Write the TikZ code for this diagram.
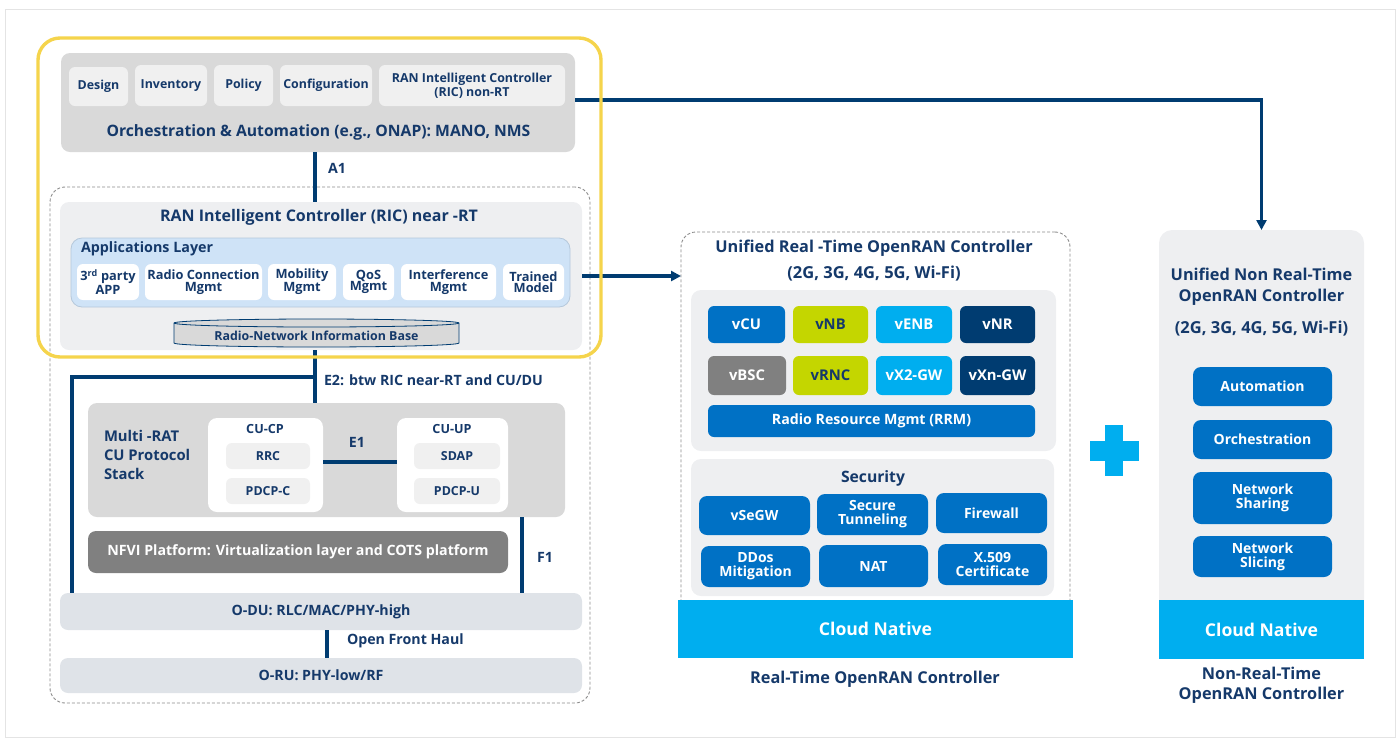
\documentclass[tikz,border=0pt]{standalone}
\usepackage{fontspec}
\setmainfont{Open Sans}
\usetikzlibrary{arrows.meta,calc}
\definecolor{txt}{HTML}{15396A}
\definecolor{navy}{HTML}{003C71}
\definecolor{lgray}{HTML}{EEEFF1}
\definecolor{mgray}{HTML}{D9D9D9}
\definecolor{boxg}{HTML}{F0F0F0}
\definecolor{appblue}{HTML}{CFE3F7}
\definecolor{appedge}{HTML}{B5C8DB}
\definecolor{dugray}{HTML}{DFE3E8}
\definecolor{dgray}{HTML}{808080}
\definecolor{iblue}{HTML}{0071C5}
\definecolor{igreen}{HTML}{C4D600}
\definecolor{icyan}{HTML}{00AEEF}
\definecolor{inavy}{HTML}{003C71}
\definecolor{yel}{HTML}{F5D44C}
\definecolor{frame}{HTML}{E4E4E4}
\definecolor{dashc}{HTML}{8C8C8C}
\newcommand\mybox[7]{\node[#6, minimum width={#4-#2}, minimum height={#5-#3}] (#1) at ({(#2+#4)/2},{(#3+#5)/2}) {#7};}
\newcommand\fz[2]{\bfseries\fontsize{#1}{#2}\selectfont}
\tikzset{
  base/.style={inner sep=0pt, outer sep=0pt, text=txt, align=center},
  f12/.style={font=\fz{12.4}{11.5}},
  f14/.style={font=\fz{14.2}{15}},
  f16/.style={font=\fz{16.3}{17}},
  f17/.style={font=\fz{17.6}{18}},
  rbox/.style={base, rounded corners=8pt},
  sbox/.style={base, f12, fill=boxg, rounded corners=6pt},
  abox/.style={base, font=\fz{12.8}{11.5}, fill=white, rounded corners=6pt},
  cbox/.style={base, font=\fz{14.8}{15}, text=white, rounded corners=6pt},
  sec/.style={base, text=white, fill=iblue, rounded corners=8pt, font=\fz{14}{14}},
  lbl/.style={base, f14},
  conn/.style={draw=navy, line width=3.2pt},
  dbox/.style={base, draw=dashc, line width=0.9pt, dash pattern=on 3pt off 2pt, rounded corners=15pt},
}
\begin{document}
\begin{tikzpicture}[x=1pt,y=-1pt]
\useasboundingbox (0,0) rectangle (1398,740);
\draw[frame, line width=1pt] (5,9) rectangle (1395.5,737.5);

% ---------- left part ----------
\mybox{ricd}{50}{187}{590}{703}{dbox}{}
\mybox{orch}{61}{53}{575}{152}{rbox, fill=mgray, rounded corners=9pt}{}
\node[base, font=\fz{15.7}{16}] (orchT) at (318.5,132) {Orchestration \& Automation (e.g., ONAP): MANO, NMS};
\mybox{design}{69}{67}{128}{106}{sbox}{Design}
\mybox{inv}{135}{65}{207}{106}{sbox}{Inventory}
\mybox{pol}{214}{65}{273}{106}{sbox}{Policy}
\mybox{conf}{280}{65}{372}{106}{sbox}{Configuration}
\mybox{ricnon}{379}{65}{565}{106}{sbox}{RAN Intelligent Controller\\[1pt](RIC) non-RT}

\mybox{ricnrt}{60}{202}{582}{350}{rbox, fill=lgray, rounded corners=9pt}{}
\node[base, font=\fz{16}{16}] (ricT) at (319,217) {RAN Intelligent Controller (RIC) near -RT};
\mybox{apps}{71}{238}{570}{307}{rbox, fill=appblue, draw=appedge, line width=0.8pt, rounded corners=11pt}{}
\node[base, font=\fz{14.3}{14}, anchor=west] (appsT) at (81,249) {Applications Layer};
\mybox{app1}{77}{264}{139}{300}{abox}{3\textsuperscript{rd} party\\APP}
\mybox{app2}{145}{264}{262}{300}{abox}{Radio Connection\\Mgmt}
\mybox{app3}{268}{264}{336}{300}{abox}{Mobility\\Mgmt}
\mybox{app4}{343}{264}{394}{300}{abox}{QoS\\Mgmt}
\mybox{app5}{401}{264}{496}{300}{abox}{Interference\\Mgmt}
\mybox{app6}{503}{264}{564}{300}{abox}{Trained\\Model}
\filldraw[fill=mgray, draw=navy, line width=0.8pt] (174,323) -- (174,343)
  arc[start angle=180, end angle=360, x radius=142.5pt, y radius=4pt] -- (459,323)
  arc[start angle=0, end angle=180, x radius=142.5pt, y radius=4pt] -- cycle;
\draw[navy, line width=0.8pt] (174,323) arc[start angle=180, end angle=360, x radius=142.5pt, y radius=4pt];
\node[base, f12, minimum width=285, minimum height=20] (rnib) at (316.5,336) {Radio-Network Information Base};

\node[lbl, anchor=west] (a1) at (328,168) {A1};
\draw[conn] (orch.south -| 315,0) -- (ricnrt.north -| 315,0);

\mybox{cu}{88}{403}{565}{517}{rbox, fill=mgray, rounded corners=9pt}{}
\node[base, anchor=north west, align=left, font=\fz{14.8}{19}] (cuT) at (104,430) {Multi -RAT\\CU Protocol\\Stack};
\mybox{cucp}{208}{418}{323}{512}{rbox, fill=white, rounded corners=9pt}{}
\node[base, font=\fz{12.6}{12}] (cucpT) at (265,429) {CU-CP};
\mybox{rrc}{226}{443}{310}{469}{sbox}{RRC}
\mybox{pdcpc}{226}{478}{310}{504}{sbox}{PDCP-C}
\mybox{cuup}{397}{418}{508}{512}{rbox, fill=white, rounded corners=9pt}{}
\node[base, font=\fz{12.6}{12}] (cuupT) at (452,429) {CU-UP};
\mybox{sdap}{414}{443}{500}{469}{sbox}{SDAP}
\mybox{pdcpu}{414}{478}{500}{504}{sbox}{PDCP-U}
\coordinate (e1y) at (0,462);
\draw[conn] (cucp.east |- e1y) -- (cuup.west |- e1y);
\node[lbl] (e1) at (357,442) {E1};

\mybox{nfvi}{88}{531}{508}{573}{rbox, f14, fill=dgray, text=white}{NFVI Platform: Virtualization layer and COTS platform}
\mybox{odu}{60}{593}{582}{630}{rbox, f14, fill=dugray}{O-DU: RLC/MAC/PHY-high}
\mybox{oru}{60}{658}{582}{693}{rbox, f14, fill=dugray}{O-RU: PHY-low/RF}

% E2
\coordinate (e2x) at (315,0);
\coordinate (e2j) at (315,377);
\coordinate (e2l) at (72,377);
\draw[conn] (ricnrt.south -| e2x) -- (cu.north -| e2x);
\draw[conn] (e2j) -- (e2l) -- (odu.north -| e2l);
\node[lbl, anchor=west] (e2) at (324,380) {E2: btw RIC near-RT and CU/DU};
% F1
\coordinate (f1x) at (522,0);
\draw[conn] (cu.south -| f1x) -- (odu.north -| f1x);
\node[lbl] (f1) at (545,557) {F1};
% front haul
\coordinate (fhx) at (327,0);
\draw[conn] (odu.south -| fhx) -- (oru.north -| fhx);
\node[lbl, anchor=west] (fh) at (347,641) {Open Front Haul};

% ---------- real-time controller ----------
\mybox{rtd}{681}{232}{1070}{625}{dbox}{}
\node[base, f16] (rtT1) at (874,248) {Unified Real -Time OpenRAN Controller};
\node[base, font=\fz{16.5}{17}] (rtT2) at (874,274) {(2G, 3G, 4G, 5G, Wi-Fi)};
\mybox{rtg}{691}{290}{1056}{451}{rbox, fill=lgray, rounded corners=10pt}{}
\mybox{vcu}{708}{306}{785}{343}{cbox, fill=iblue}{vCU}
\mybox{vnb}{793}{306}{868}{343}{cbox, fill=igreen, text=txt}{vNB}
\mybox{venb}{876}{306}{952}{343}{cbox, fill=icyan}{vENB}
\mybox{vnr}{960}{306}{1035}{343}{cbox, fill=inavy}{vNR}
\mybox{vbsc}{708}{356}{786}{395}{cbox, fill=dgray}{vBSC}
\mybox{vrnc}{793}{356}{868}{395}{cbox, fill=igreen, text=txt}{vRNC}
\mybox{vx2}{876}{356}{952}{395}{cbox, fill=icyan}{vX2-GW}
\mybox{vxn}{960}{356}{1035}{395}{cbox, fill=inavy}{vXn-GW}
\mybox{rrm}{708}{405}{1035}{437}{cbox, f14, fill=iblue}{Radio Resource Mgmt (RRM)}
\mybox{secg}{691}{459}{1054}{596}{rbox, fill=lgray, rounded corners=10pt}{}
\node[base, font=\fz{15.7}{16}] (secT) at (873,478) {Security};
\mybox{segw}{699}{496}{810}{535}{sec}{vSeGW}
\mybox{tun}{817}{494}{928}{535}{sec}{Secure\\Tunneling}
\mybox{fw}{936}{493}{1047}{533}{sec}{Firewall}
\mybox{ddos}{701}{546}{810}{587}{sec}{DDos\\Mitigation}
\mybox{nat}{819}{545}{928}{587}{sec}{NAT}
\mybox{x509}{938}{544}{1047}{585}{sec}{X.509\\Certificate}
\mybox{cn1}{678}{600}{1073}{658}{base, f17, fill=icyan, text=white}{Cloud Native}
\node[base, f16] (rtLab) at (875,679) {Real-Time OpenRAN Controller};

% ---------- plus ----------
\fill[icyan] (1090,441) rectangle (1139,461);
\fill[icyan] (1105,425) rectangle (1123,476);

% ---------- non-real-time controller ----------
\mybox{nrt}{1159}{230}{1364}{630}{rbox, fill=lgray, rounded corners=13pt}{}
\node[base, font=\fz{16.3}{21}] (nrtT1) at (1261.5,287) {Unified Non Real-Time\\OpenRAN Controller};
\node[base, font=\fz{16.5}{17}] (nrtT2) at (1261.5,329) {(2G, 3G, 4G, 5G, Wi-Fi)};
\mybox{auto}{1193}{367}{1332}{406}{sec}{Automation}
\mybox{orc}{1193}{420}{1332}{459}{sec}{Orchestration}
\mybox{nsh}{1193}{472}{1332}{524}{sec}{Network\\Sharing}
\mybox{nsl}{1193}{536}{1332}{577}{sec}{Network\\Slicing}
\mybox{cn2}{1159}{600}{1364}{659}{base, f17, fill=icyan, text=white}{Cloud Native}
\node[base, font=\fz{16.3}{20}] (nrtLab) at (1261.5,685) {Non-Real-Time\\OpenRAN Controller};

% ---------- long connectors ----------
\coordinate (oy) at (0,100);
\draw[conn, -{Triangle[width=10pt,length=10pt]}] (orch.east |- oy) -| (nrt.north);
\draw[conn, -{Triangle[width=10pt,length=10pt]}] (ricnrt.east) -- (ricnrt.east -| rtd.west);

% yellow highlight
\draw[yel, line width=3.4pt, rounded corners=22pt] (38,38) rectangle (601,357);
\end{tikzpicture}
\end{document}
